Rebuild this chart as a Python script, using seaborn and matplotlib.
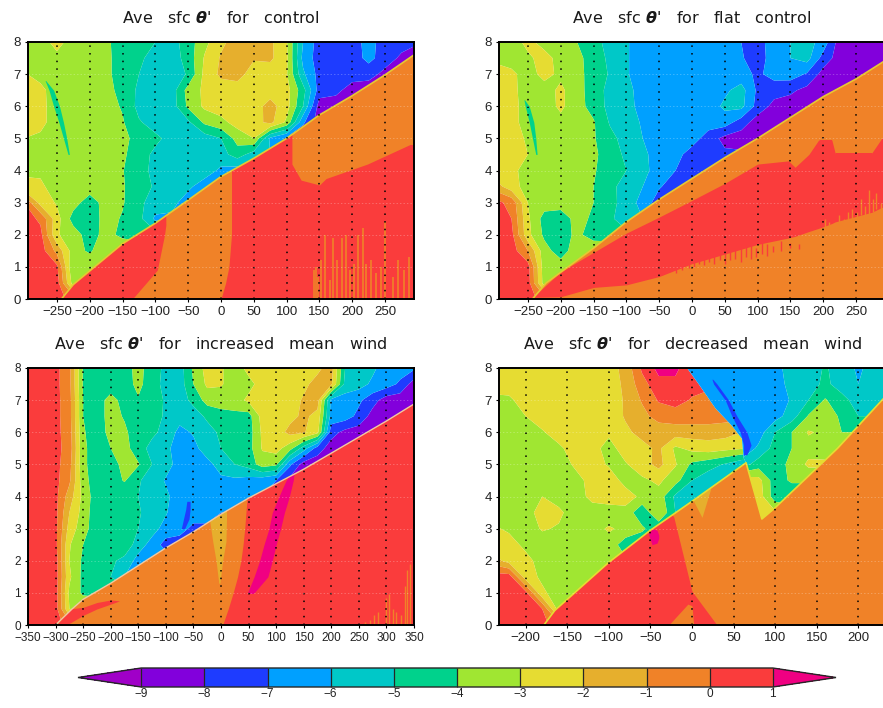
import numpy as np
import seaborn as sns
import matplotlib.pyplot as plt
from matplotlib.cm import ScalarMappable
from matplotlib.colors import BoundaryNorm, ListedColormap
from matplotlib.patches import Polygon

sns.set_theme(style="white")
plt.rcParams['font.family'] = ['Liberation Sans', 'DejaVu Sans']

levels = [-9, -8, -7, -6, -5, -4, -3, -2, -1, 0, 1]
level_colors = ["#a000c8", "#8200dc", "#1e3cff", "#00a0ff", "#00c8c8", "#00d28c",
                "#a0e632", "#e6dc32", "#e6af2d", "#f08228", "#fa3c3c", "#f00082"]
y_rows = [8, 7.5, 7, 6.5, 6, 5.5, 5, 4.5, 4, 3.5, 3, 2.5, 2, 1.5, 1, 0.5, 0]

# --- control --------------------------------------------------------
control_x = [-300, -275, -250, -225, -200, -175, -150, -125, -100, -75, -50, -25, 0,
             25, 50, 75, 100, 125, 150, 175, 200, 225, 250, 275, 300]
control_upper = [
    [-3.5,-3.5,-2.6,-3.5,-3.5,-3.8,-4.5,-4.6,-5.0,-5.4,-4.5,-3.3,-2.2,-1.6,-1.6,-1.8,-2.9,-6.0,-7.5,-7.5,-7.5,-6.6,-7.5,-7.6,-7.9],
    [-3.5,-3.4,-3.3,-3.5,-3.5,-3.8,-4.4,-4.8,-5.4,-5.5,-4.6,-2.9,-1.9,-1.6,-1.9,-1.8,-2.8,-6.3,-7.5,-7.5,-7.5,-6.7,-7.5,-8.2,-8.6],
    [-2.9,-3.4,-3.3,-3.4,-3.5,-3.8,-4.4,-5.0,-5.5,-5.5,-4.9,-2.7,-1.8,-1.6,-2.5,-2.6,-2.9,-5.8,-7.4,-7.5,-7.5,-7.6,-8.3,-8.5,-8.6],
    [-2.5,-2.7,-3.6,-3.5,-3.5,-3.7,-4.3,-5.2,-5.5,-5.5,-3.6,-2.8,-2.5,-2.5,-2.5,-2.5,-2.6,-4.6,-7.5,-7.7,-8.5,-8.6],
    [-2.5,-2.7,-3.5,-3.4,-3.5,-3.6,-4.1,-5.3,-5.5,-5.5,-3.8,-2.8,-2.5,-2.5,-2.5,-1.6,-2.6,-5.0,-8.5,-8.6],
    [-2.6,-2.7,-3.5,-3.5,-3.5,-3.5,-3.9,-4.9,-5.4,-5.5,-5.2,-3.8,-3.3,-2.6,-2.4,-1.7,-3.2,-6.8,-8.6],
    [-3.0,-3.2,-3.5,-3.5,-3.5,-3.5,-3.7,-4.4,-4.8,-5.3,-5.5,-5.5,-5.0,-3.6,-3.0,-6.2,-7.2,-8.0],
    [-3.0,-3.0,-3.4,-3.5,-3.5,-3.5,-3.8,-4.6,-5.2,-5.5,-5.5,-5.5,-5.4,-4.5,-5.5,-6.0],
    [-3.2,-3.2,-3.4,-3.5,-3.5,-3.5,-3.95,-4.6,-5.3,-5.5,-5.5,-5.5,-6.2,-6.5],
    [-2.7,-2.8,-3.5,-3.5,-3.5,-3.5,-3.95,-4.3,-5.2,-5.5,-5.8,-6.5],
    [0.0,-2.4,-3.1,-3.6,-4.5,-3.6,-3.9,-4.8,-5.4,-5.7,-6.5],
    [0.5,-0.2,-2.6,-4.4,-4.6,-3.6,-4.1,-4.7,-6.2],
    [0.5,0.3,-2.9,-3.5,-4.5,-3.6,-4.3,-4.6],
    [0.5,0.5,-1.3,-3.5,-4.2,-3.0],
    [0.5,0.5,0.2,-4.0,-3.0],
    [0.5,0.5,0.5,-3.5],
    [0.5,0.5,0.5,-0.5],
]
control_front_x = [-243, -225, -150, -100, -50, 0, 50, 100, 150, 200, 250, 294]
control_front_y = [0, 0.45, 1.72, 2.36, 3.08, 3.81, 4.38, 5.0, 5.73, 6.33, 6.98, 7.6]
control_lower = [
    (0.5, [-300, -135, -97, -86, -84], [0, 0, 0.9, 2, 2.3], [8, 8, 8, 8, 2.3]),
    (0.5, [0, 7, 12, 16, 16.01, 108, 108.01, 122, 150, 160, 223, 287, 300],
     [0] * 13, [0, 0.5, 1, 2, 8, 8, 4.2, 3.7, 3.55, 3.75, 4.2, 4.8, 4.8]),
]
control_streak_x = [141, 144, 148, 153, 158, 166, 171, 176, 184, 190, 197, 203, 209, 216,
                    221, 229, 236, 243, 250, 262, 270, 279, 286]
control_streak_top = [0.9, 1.0, 0.7, 1.2, 2.0, 0.6, 1.9, 1.2, 1.9, 2.0, 0.9, 1.1, 2.0, 2.2,
                      1.1, 1.2, 0.8, 1.0, 2.4, 0.7, 1.2, 0.9, 1.3]
control_green_y = [4.5, 5.0, 5.5, 6.0, 6.5, 6.8]
control_green_left = [-233, -240, -247, -255, -262, -268]
control_green_right = [-231, -235, -240, -246, -255, -267]

# --- flat control ---------------------------------------------------
flat_x = control_x
flat_upper = [
    [-3.5,-3.5,-2.7,-3.4,-3.5,-4.0,-4.6,-5.4,-5.9,-6.5,-6.5,-6.5,-6.5,-6.5,-6.5,-7.0,-7.4,-6.5,-6.0,-5.6,-6.4,-8.5,-8.6],
    [-3.2,-3.4,-3.2,-2.6,-3.4,-3.7,-4.5,-5.2,-5.9,-6.5,-6.5,-6.5,-6.5,-6.5,-6.5,-6.9,-7.5,-6.5,-6.0,-5.6,-7.4,-8.5,-8.6],
    [-2.6,-2.8,-3.4,-2.7,-3.2,-3.7,-4.4,-5.1,-5.9,-6.5,-6.5,-6.5,-6.5,-6.5,-6.5,-6.6,-7.2,-6.6,-6.5,-7.1,-8.4,-8.6],
    [-2.6,-2.7,-3.5,-3.4,-2.8,-3.6,-4.5,-5.3,-5.7,-6.4,-6.5,-6.5,-6.5,-6.5,-6.2,-5.6,-7.2,-7.6,-7.8,-8.3,-8.5,-8.6],
    [-2.5,-2.6,-3.5,-3.5,-2.8,-3.6,-4.4,-5.3,-5.7,-6.3,-6.5,-6.5,-6.5,-6.5,-5.8,-5.7,-7.4,-8.3,-8.5,-8.5,-8.6],
    [-2.5,-2.6,-3.5,-3.5,-3.3,-3.5,-3.9,-5.1,-5.6,-6.1,-6.5,-6.5,-6.5,-6.5,-6.5,-7.5,-8.5,-8.6],
    [-2.6,-2.7,-3.1,-3.8,-3.5,-3.5,-3.9,-4.7,-5.4,-6.0,-6.5,-6.5,-6.5,-7.5,-8.3,-8.5,-8.6],
    [-2.6,-2.7,-3.0,-3.5,-3.5,-3.5,-3.8,-4.5,-5.2,-5.8,-6.4,-6.6,-7.5,-7.6,-7.8],
    [-2.6,-2.8,-3.3,-3.5,-3.5,-3.5,-3.9,-4.5,-5.0,-5.8,-6.3,-7.0,-7.6],
    [-1.5,-2.6,-3.4,-3.5,-3.5,-3.5,-4.0,-4.8,-5.3,-6.0,-6.9,-7.5],
    [0.3,-0.3,-3.0,-3.5,-3.5,-3.5,-4.0,-4.7,-5.4,-6.4,-7.5],
    [0.5,0.0,-2.8,-4.4,-4.6,-3.6,-4.2,-4.8,-5.6,-6.0],
    [0.5,0.3,-2.7,-4.2,-4.6,-3.7,-4.6,-4.7],
    [0.5,0.5,-1.0,-3.6,-4.5,-3.4,-3.0],
    [0.5,0.5,0.4,-3.6,-3.5,-3.0],
    [0.5,0.5,0.5,-3.5],
    [0.5,0.5,0.5,-0.5],
]
flat_front_x = [-243, -222, -150, -100, -50, 0, 50, 100, 150, 200, 250, 294]
flat_front_y = [0, 0.5, 1.58, 2.4, 3.1, 3.75, 4.4, 5.0, 5.65, 6.3, 6.85, 7.42]
flat_lower = [
    (0.5, [-240, -200, -150, -100, -50, 0, 50, 100, 147, 157, 178, 193, 213, 218, 274, 289, 300],
     [0.05, 0.07, 0.36, 0.44, 0.7, 1.1, 1.4, 1.7, 1.9, 1.95, 2.1, 2.2, 2.35, 2.4, 2.7, 2.85, 2.9],
     [0.1, 0.85, 1.45, 2.05, 2.55, 3.07, 3.6, 4.2, 4.3, 4.1, 4.5, 4.95, 4.95, 4.55, 4.55, 5.0, 5.0]),
]
flat_streak_x = [-45, -35, -25, -15, -5, 3, 10, 18, 26, 34, 42, 50, 58, 66, 74, 82, 90, 98, 106, 115, 124, 135, 150, 163]
flat_streak_top = [1.0, 1.1, 1.0, 1.15, 1.2, 1.35, 1.4, 1.45, 1.4, 1.55, 1.5, 1.6, 1.7, 1.6, 1.7, 1.65, 1.8, 1.6, 1.75, 1.7, 1.65, 1.8, 1.75, 1.7]
flat_streak_low = [0.75, 0.85, 0.8, 0.9, 0.95, 1.0, 1.1, 1.05, 1.15, 1.1, 1.2, 1.1, 1.2, 1.25, 1.15, 1.3, 1.25, 1.3, 1.4, 1.35, 1.45, 1.5, 1.6, 1.55]
flat_orange_x = [203, 209, 224, 232, 238, 244, 252, 258, 264, 270, 276, 281, 288]
flat_orange_low = [2.2, 2.3, 2.3, 2.4, 2.45, 2.5, 2.5, 2.6, 2.6, 2.65, 2.7, 2.8, 2.8]
flat_orange_top = [2.5, 2.4, 2.6, 2.5, 2.7, 2.8, 2.7, 3.1, 2.9, 3.4, 3.1, 3.3, 3.0]
flat_green_y = [4.5, 5.0, 5.5, 6.0, 6.2]
flat_green_left = [-238, -243, -248, -254, -256]
flat_green_right = [-236, -238, -241, -248, -255]

# --- increased mean wind --------------------------------------------
fast_x = [-350, -325, -300, -275, -250, -225, -200, -175, -150, -125, -100, -75, -50, -25, 0,
          25, 50, 75, 100, 125, 150, 175, 200, 225, 250, 275, 300, 325, 350]
fast_upper = [
    [0.5,0.5,0.3,-0.7,-4.1,-4.5,-4.5,-4.5,-3.6,-4.6,-5.2,-5.5,-3.8,-2.6,-2.9,-3.5,-2.7,-2.5,-2.5,-2.5,-2.5,-2.2,-1.6,-5.0,-5.5,-5.8,-6.5,-6.5,-6.8],
    [0.5,0.5,0.3,-0.7,-4.1,-4.5,-4.6,-4.5,-3.7,-4.6,-5.3,-5.5,-4.0,-2.8,-2.9,-3.5,-3.3,-2.6,-2.5,-2.5,-2.2,-1.7,-1.8,-5.3,-5.6,-6.2,-6.5,-7.2,-8.5],
    [0.5,0.5,0.3,-0.6,-4.0,-4.5,-3.6,-4.4,-4.1,-4.6,-5.1,-5.5,-4.7,-3.6,-3.5,-3.4,-2.8,-2.5,-2.5,-2.4,-1.9,-1.6,-6.3,-6.5,-6.8,-7.6,-8.5,-8.6],
    [0.5,0.5,0.3,-0.6,-4.0,-4.5,-3.6,-4.1,-4.6,-4.7,-5.1,-5.6,-5.5,-4.8,-4.4,-4.3,-4.4,-2.6,-2.5,-2.3,-1.8,-2.3,-6.4,-6.5,-7.3,-8.4,-8.6],
    [0.5,0.5,0.3,-0.5,-3.9,-4.5,-3.7,-3.8,-4.6,-4.8,-5.3,-6.3,-5.9,-5.4,-4.8,-4.6,-4.5,-2.8,-2.5,-1.7,-1.9,-2.7,-7.6,-8.3,-8.5,-8.6],
    [0.5,0.5,0.3,-0.4,-3.8,-4.5,-4.0,-3.6,-4.6,-5.3,-5.8,-6.4,-6.3,-5.5,-5.0,-4.5,-4.4,-2.9,-2.6,-3.6,-5.5,-7.5,-8.5,-8.6],
    [0.5,0.5,0.3,-0.6,-3.8,-4.5,-4.4,-3.7,-3.9,-5.0,-5.6,-6.4,-6.5,-6.3,-5.6,-5.0,-4.6,-3.5,-3.8,-6.8,-8.5,-8.6],
    [0.5,0.5,0.3,-0.8,-3.6,-4.6,-4.6,-3.9,-4.9,-5.4,-6.1,-6.5,-6.5,-6.5,-6.2,-6.2,-6.4,-6.6,-7.0,-8.3],
    [0.5,0.5,0.3,-1.5,-3.3,-4.6,-4.7,-4.9,-5.0,-5.3,-5.8,-6.5,-6.5,-6.5,-6.5,-6.5,-6.6,-7.0],
    [0.5,0.5,0.3,-2.0,-3.4,-4.7,-4.7,-4.8,-4.9,-5.4,-5.9,-6.8,-6.6,-6.6,-7.0],
    [0.5,0.5,0.3,-2.4,-3.6,-4.6,-4.6,-4.1,-5.0,-5.6,-6.4,-6.7,-7.2],
    [0.5,0.5,0.3,-2.9,-4.0,-4.8,-4.7,-4.3,-5.5,-6.4,-7.4],
    [0.5,0.5,0.5,-3.0,-4.2,-4.8,-4.8,-5.3,-6.4],
    [0.5,0.5,0.5,-2.8,-4.3,-4.6,-5.0,-6.0],
    [0.5,0.5,0.5,-3.2,-4.2,-4.3],
    [0.5,0.5,0.5,-3.0],
    [0.5,0.5,0.5,-0.5],
]
fast_front_x = [-300, -270, -250, -200, -150, -100, -50, 0, 50, 100, 150, 200, 250, 300, 350]
fast_front_y = [0, 0.5, 0.8, 1.3, 1.85, 2.4, 2.9, 3.45, 3.95, 4.4, 4.85, 5.35, 5.85, 6.35, 6.88]
fast_lower = [
    (0.5, [3, 13, 22, 30, 36, 40, 43, 47, 47.01, 352], [0] * 10, [0, 0.5, 1, 1.5, 2, 2.5, 3, 3.9, 8, 8]),
    (0.5, [-298, -275, -250, -225, -200, -184], [0, 0.05, 0.3, 0.5, 0.65, 0.75], [0, 0.5, 0.55, 0.7, 0.78, 0.75]),
]
fast_tongue_y = [1.0, 1.5, 2.0, 2.5, 3.0, 3.5, 4.0, 4.5, 4.8]
fast_tongue_left = [48, 60, 70, 78, 87, 93, 105, 118, 130]
fast_tongue_right = [60, 85, 93, 100, 108, 115, 124, 131, 133]
fast_gold_y = [1.3, 2.0, 2.6, 3.3, 3.6]
fast_gold_left = [-4, -9, -15, -21, -21]
fast_gold_right = [-2, 3, 9, 10, 10]
fast_streak_x = [262, 270, 278, 285, 300, 305, 312, 318, 326, 333, 338, 343]
fast_streak_top = [0.08, 0.15, 0.3, 0.4, 0.85, 0.95, 0.5, 0.4, 0.3, 1.2, 1.7, 1.9]
fast_blue_y = [3.0, 3.3, 3.6, 3.85]
fast_blue_left = [-72, -68, -64, -62]
fast_blue_right = [-66, -58, -56, -56]

# --- decreased mean wind --------------------------------------------
slow_x = [-240, -220, -200, -180, -160, -140, -120, -100, -80, -60, -40, -20, 0,
          20, 40, 60, 80, 100, 120, 140, 160, 180, 200, 220, 240]
slow_left = [
    [-2.5,-2.5,-2.5,-2.5,-2.5,-2.5,-2.5,-2.4,-1.7,0.2,1.3,1.2,0.4],
    [-2.5,-2.5,-2.5,-2.5,-2.5,-2.5,-2.5,-2.5,-1.8,-0.4,0.7,0.8,0.4],
    [-3.3,-3.2,-2.5,-2.5,-2.5,-2.5,-2.5,-2.5,-1.9,-0.9,0.1,0.4,-0.1,-0.6],
    [-3.5,-3.5,-3.0,-2.5,-2.5,-2.5,-3.0,-2.6,-1.9,-1.3,-0.6,-0.5,-0.5,-0.5,-0.6],
    [-3.5,-3.5,-3.5,-3.1,-2.5,-2.5,-2.9,-2.8,-2.2,-1.7,-1.6,-1.5,-1.5,-1.5,-1.6,-2.0],
    [-3.5,-3.5,-3.5,-3.5,-3.2,-2.5,-2.6,-3.4,-2.5,-2.3,-1.8,-3.2,-2.7,-2.5,-2.7,-2.9],
    [-3.5,-3.5,-3.5,-3.5,-3.6,-2.8,-2.6,-3.1,-3.1,-2.4,-1.7,-2.9,-4.2,-4.6,-5.1,-5.8],
    [-3.5,-3.5,-3.5,-3.5,-3.5,-3.4,-2.6,-2.5,-3.3,-3.2,-2.8,-3.6,-5.0,-5.6,-6.0],
    [-3.5,-3.5,-3.5,-3.0,-3.4,-3.5,-2.7,-2.5,-2.6,-3.2,-3.4,-5.2,-5.6],
    [-3.5,-3.5,-3.4,-2.6,-2.8,-3.5,-3.5,-3.5,-3.3,-4.8,-3.0,-5.0],
    [-2.8,-3.2,-3.5,-2.9,-3.1,-3.5,-3.3,-2.9,-3.2,-3.8,-4.8],
    [-2.5,-2.5,-3.3,-3.5,-3.5,-3.5,-3.5,-3.3,-4.6,-4.8],
    [-1.5,-2.4,-2.6,-3.5,-3.5,-3.0,-3.5,-3.8],
    [0.5,0.5,-2.5,-3.2,-3.5,-3.0],
    [0.5,0.5,0.3,-2.8,-3.5,-3.3],
    [0.5,0.5,0.5,0.0,-3.5],
    [0.5,0.5,0.5,0.3,-0.5],
]
slow_right_x = [-20, 0, 20, 40, 60, 80, 100, 120, 140, 160, 180, 200, 220, 240]
slow_right_y = [8, 7.5, 7, 6.5, 6, 5.5, 5, 4.5, 4, 3.5, 3]
slow_right = [
    [-6.5,-6.5,-6.6,-6.6,-6.5,-6.5,-6.3,-5.6,-5.5,-4.9,-5.4,-6.2,-5.5,-5.5],
    [-6.5,-6.5,-6.5,-6.6,-6.6,-6.5,-6.4,-5.7,-5.4,-4.8,-5.4,-6.0,-5.5,-5.5],
    [-6.5,-6.5,-6.5,-6.6,-6.6,-6.5,-6.5,-5.9,-5.0,-3.9,-4.7,-5.4,-5.8,-5.8],
    [-6.5,-6.5,-6.5,-6.5,-6.6,-6.5,-6.4,-5.5,-3.9,-3.4,-4.2,-5.0,-5.0,-5.0],
    [-6.5,-6.5,-6.5,-6.5,-6.8,-6.5,-5.0,-4.0,-2.9,-3.2,-4.0,-4.0,-4.0,-4.0],
    [-6.5,-6.5,-6.5,-6.5,-6.8,-5.8,-4.6,-4.0,-3.4,-3.5,-3.5,-3.5,-3.5,-3.5],
    [-5.5,-5.5,-5.5,-5.5,-5.5,-4.5,-4.5,-3.7,-2.8,-2.8,-2.8,-2.8,-2.8,-2.8],
    [-2.3,-2.3,-2.3,-2.3,-2.3,-2.6,-4.6,-3.8,-3.8,-3.8,-3.8,-3.8,-3.8,-3.8],
    [-2.3,-2.3,-2.3,-2.3,-2.3,-2.4,-4.6,-5.0,-5.0,-5.0,-5.0,-5.0,-5.0,-5.0],
    [-2.2,-2.2,-2.2,-2.2,-2.2,-2.2,-2.8,-3.0,-3.0,-3.0,-3.0,-3.0,-3.0,-3.0],
    [-2.2,-2.2,-2.2,-2.2,-2.2,-2.2,-2.8,-3.0,-3.0,-3.0,-3.0,-3.0,-3.0,-3.0],
]
slow_front_x = [-178, -165, -100, -50, -25, 0, 65]
slow_front_y = [0, 0.45, 1.95, 2.95, 3.4, 3.85, 5.05]
slow_ridge_x = [65, 62, 60, 48, 28, 8, -6]
slow_ridge_y = [5.05, 5.2, 5.8, 6.2, 6.75, 7.5, 8]
slow_rear_x = [84, 100, 175, 232]
slow_rear_y = [3.3, 3.65, 5.5, 7.1]
slow_lower = [
    (0.5, [-180, -22, 0, 30], [0, 0, 0, 0], [8, 3.37, 1.05, 0]),
    (-0.5, [-28, -5, 0, 2], [0, 0, 0, 0], [0, 0.65, 0.6, 0]),
    (-1.5, [1, 12, 22], [3.9, 3.35, 4.2], [3.9, 8, 8]),
    (1.5, [-52, -48, -42, -40], [2.8, 2.5, 2.55, 2.7], [2.85, 3.0, 2.95, 2.8]),
]
slow_blue_y = [5.3, 5.6, 6.0, 6.5, 7.0, 7.5, 7.65]
slow_blue_left = [62, 62, 58, 48, 40, 26, 24]
slow_blue_right = [66, 71, 66, 54, 44, 30, 25]


def value_color(value):
    return cmap(norm(value))


def draw_field(ax, x, y, rows, clip_xy):
    # rows stop at the front, the rest of a row only needs the last value
    filled = np.array([r + [r[-1]] * (len(x) - len(r)) for r in rows])
    cs = ax.contourf(x, np.array(y)[::-1], filled[::-1], levels=levels,
                     cmap=cmap, norm=norm, extend="both", antialiased=True)
    clip = Polygon(clip_xy, closed=True, transform=ax.transData, fill=False, lw=0)
    ax.add_patch(clip)
    cs.set_clip_path(clip)
    return clip


def draw_lower(ax, regions, xlim, clip):
    base = ax.fill_between(xlim, 0, 8, color=value_color(-0.5), lw=0, zorder=1)
    base.set_clip_path(clip)
    for value, x, low, high in regions:
        area = ax.fill_between(x, low, high, color=value_color(value), lw=0, zorder=1.1)
        area.set_clip_path(clip)


def finish_axes(ax, title, xlim, xticks, tick_size=9.5):
    ax.set_xlim(-xlim, xlim)
    ax.set_ylim(0, 8)
    ax.set_xticks(xticks)
    ax.set_yticks(range(0, 9))
    ax.tick_params(axis="both", labelsize=tick_size, length=2, width=0.8, pad=3, color="black",
                   labelcolor="#222222", bottom=True, left=True)
    ax.set_axisbelow(False)
    ax.grid(axis="x", color="black", linestyle=(0, (1, 4)), linewidth=1.1)
    ax.grid(axis="y", color="white", linestyle=(0, (2, 3)), linewidth=0.5, alpha=0.35)
    for spine in ax.spines.values():
        spine.set_visible(True)
        spine.set_color("black")
        spine.set_linewidth(1.4)
        spine.set_zorder(6)
    ax.set_title(title, fontsize=11.5, pad=14, color="#1a1a1a", family="DejaVu Sans")


def pixel_axes(left, right, top, bottom):
    return fig.add_axes([left / 883, 1 - bottom / 708, (right - left) / 883, (bottom - top) / 708])


cmap = ListedColormap(sns.color_palette(level_colors))
norm = BoundaryNorm(levels, ncolors=12, extend="both")

fig = plt.figure(figsize=(8.83, 7.08), dpi=100)

# control
ax1 = pixel_axes(28, 414, 42, 299)
xl = 294
fx, fy = control_front_x, control_front_y
draw_field(ax1, control_x, y_rows, control_upper,
           list(zip(fx, fy)) + [(xl, 8), (-xl, 8), (-xl, 0)])
low_clip = Polygon(list(zip(fx, fy)) + [(xl, 0)], closed=True, transform=ax1.transData, fill=False, lw=0)
ax1.add_patch(low_clip)
draw_lower(ax1, control_lower, [-xl, xl], low_clip)
ax1.vlines(control_streak_x, 0, control_streak_top, color=value_color(-0.5), lw=1.2, zorder=1.2)
ax1.fill_betweenx(control_green_y, control_green_left, control_green_right, color=value_color(-4.5), lw=0, zorder=1.2)
sns.lineplot(x=fx, y=fy, color="#e6c832", lw=1.2, sort=False, estimator=None, ax=ax1, zorder=2)
finish_axes(ax1, r"Ave   sfc $\boldsymbol{\theta}$'   for   control", xl, range(-250, 251, 50))

# flat control
ax2 = pixel_axes(499, 885, 42, 299)
fx, fy = flat_front_x, flat_front_y
draw_field(ax2, flat_x, y_rows, flat_upper,
           list(zip(fx, fy)) + [(xl, 8), (-xl, 8), (-xl, 0)])
low_clip = Polygon(list(zip(fx, fy)) + [(xl, 0)], closed=True, transform=ax2.transData, fill=False, lw=0)
ax2.add_patch(low_clip)
draw_lower(ax2, flat_lower, [-xl, xl], low_clip)
ax2.vlines(flat_streak_x, flat_streak_low, flat_streak_top, color=value_color(0.5), lw=1.0, zorder=1.2)
ax2.vlines(flat_orange_x, flat_orange_low, flat_orange_top, color=value_color(-0.5), lw=1.0, zorder=1.2)
ax2.fill_betweenx(flat_green_y, flat_green_left, flat_green_right, color=value_color(-4.5), lw=0, zorder=1.2)
sns.lineplot(x=fx, y=fy, color="#e6c832", lw=1.2, sort=False, estimator=None, ax=ax2, zorder=2)
finish_axes(ax2, r"Ave   sfc $\boldsymbol{\theta}$'   for   flat   control", xl, range(-250, 251, 50))

# increased mean wind
ax3 = pixel_axes(28, 414, 368, 625)
xl = 350
fx, fy = fast_front_x, fast_front_y
draw_field(ax3, fast_x, y_rows, fast_upper,
           list(zip(fx, fy)) + [(xl, 8), (-xl, 8), (-xl, 0)])
low_clip = Polygon(list(zip(fx, fy)) + [(xl, 0)], closed=True, transform=ax3.transData, fill=False, lw=0)
ax3.add_patch(low_clip)
draw_lower(ax3, fast_lower, [-xl, xl], low_clip)
gold = ax3.fill_betweenx(fast_gold_y, fast_gold_left, fast_gold_right, color=value_color(-1.5), lw=0, zorder=1.2)
gold.set_clip_path(low_clip)
tongue = ax3.fill_betweenx(fast_tongue_y, fast_tongue_left, fast_tongue_right, color=value_color(1.5), lw=0, zorder=1.2)
tongue.set_clip_path(low_clip)
ax3.fill_betweenx(fast_blue_y, fast_blue_left, fast_blue_right, color=value_color(-7.5), lw=0, zorder=1.2)
ax3.vlines(fast_streak_x, 0, fast_streak_top, color=value_color(-0.5), lw=1.0, zorder=1.2)
sns.lineplot(x=fx, y=fy, color="#f0c8a0", lw=1.0, sort=False, estimator=None, ax=ax3, zorder=2)
finish_axes(ax3, r"Ave   sfc $\boldsymbol{\theta}$'   for   increased   mean   wind", xl, range(-350, 351, 50), tick_size=8.5)

# decreased mean wind
ax4 = pixel_axes(499, 885, 368, 625)
xl = 232
left_clip = list(zip(slow_front_x, slow_front_y)) + list(zip(slow_ridge_x[1:], slow_ridge_y[1:])) + [(-xl, 8), (-xl, 0)]
draw_field(ax4, slow_x, y_rows, slow_left, left_clip)
right_clip = list(zip(slow_ridge_x[::-1], slow_ridge_y[::-1])) + list(zip(slow_rear_x, slow_rear_y)) + [(xl, 8)]
draw_field(ax4, slow_right_x, slow_right_y, slow_right, right_clip)
fx = slow_front_x + slow_rear_x
fy = slow_front_y + slow_rear_y
low_clip = Polygon(list(zip(fx, fy)) + [(xl, 0)], closed=True, transform=ax4.transData, fill=False, lw=0)
ax4.add_patch(low_clip)
draw_lower(ax4, slow_lower, [-xl, xl], low_clip)
ax4.fill_betweenx(slow_blue_y, slow_blue_left, slow_blue_right, color=value_color(-7.5), lw=0, zorder=1.2)
sns.lineplot(x=fx, y=fy, color="#e6dc32", lw=1.2, sort=False, estimator=None, ax=ax4, zorder=2)
finish_axes(ax4, r"Ave   sfc $\boldsymbol{\theta}$'   for   decreased   mean   wind", xl, range(-200, 201, 50))

# colour bar, the axes holds the two end arrows as well
cax = pixel_axes(78, 836, 668, 687)
cbar = fig.colorbar(ScalarMappable(norm=norm, cmap=cmap), cax=cax, orientation="horizontal",
                    extend="both", extendfrac=0.1, spacing="uniform", drawedges=True, ticks=levels)
cbar.ax.tick_params(labelsize=8.5, length=0, pad=1, labelcolor="#222222")
cbar.outline.set_linewidth(1.0)
cbar.dividers.set_linewidth(0.9)

fig.savefig("out.png", dpi=100)
